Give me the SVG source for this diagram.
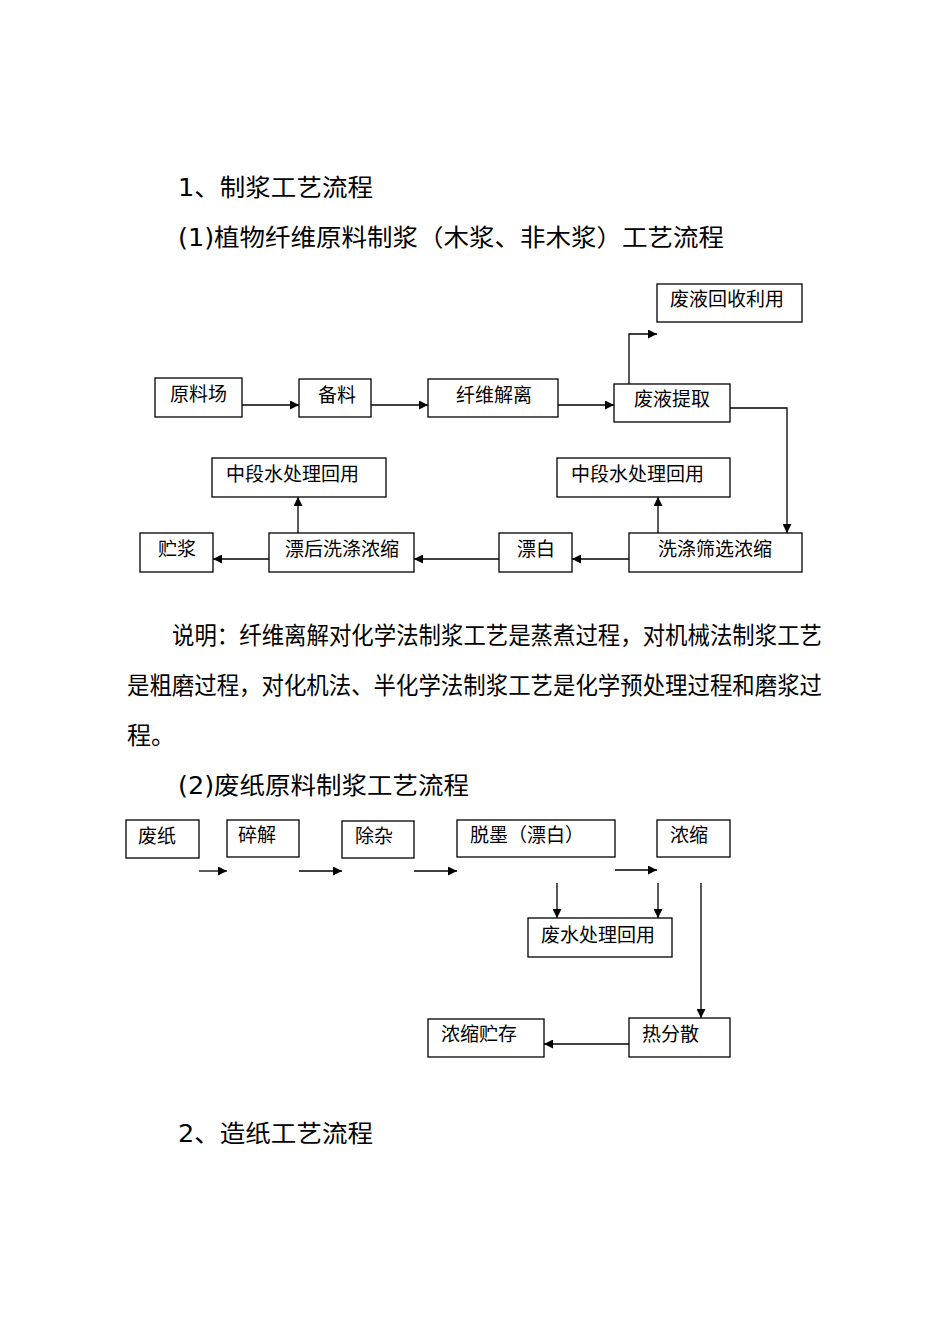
<svg xmlns="http://www.w3.org/2000/svg" width="950" height="1344" viewBox="0 0 950 1344">
<style>
.t{font-family:"DejaVu Sans","Noto Sans CJK SC",sans-serif;font-size:24px;fill:#000}
.b rect{fill:#fff;stroke:#000;stroke-width:1.3}
.b text{font-family:"Noto Sans CJK SC",sans-serif;font-size:19px;fill:#000}
#c path{fill:none;stroke:#000;stroke-width:1.3;marker-end:url(#a)}
</style>
<defs><marker id="a" viewBox="0 0 10 10" refX="10" refY="5" markerWidth="9" markerHeight="9" markerUnits="userSpaceOnUse" orient="auto"><path d="M0,0L10,5L0,10z" fill="#000"/></marker></defs>
<rect width="950" height="1344" fill="#fff"/>
<text class="t" x="178" y="196" textLength="195" lengthAdjust="spacingAndGlyphs">1、制浆工艺流程</text>
<text class="t" x="178" y="246" textLength="546" lengthAdjust="spacingAndGlyphs">(1)植物纤维原料制浆（木浆、非木浆）工艺流程</text>
<text class="t" x="172" y="644" textLength="650" lengthAdjust="spacingAndGlyphs">说明：纤维离解对化学法制浆工艺是蒸煮过程，对机械法制浆工艺</text>
<text class="t" x="127" y="694" textLength="695" lengthAdjust="spacingAndGlyphs">是粗磨过程，对化机法、半化学法制浆工艺是化学预处理过程和磨浆过</text>
<text class="t" x="127" y="744">程。</text>
<text class="t" x="178" y="794" textLength="291" lengthAdjust="spacingAndGlyphs">(2)废纸原料制浆工艺流程</text>
<text class="t" x="178" y="1142" textLength="195" lengthAdjust="spacingAndGlyphs">2、造纸工艺流程</text>
<g class="b">
<g id="n1"><rect x="657" y="284" width="145" height="38"/><text x="670" y="306">废液回收利用</text></g>
<g id="n2"><rect x="155" y="378" width="87" height="39"/><text x="170" y="401">原料场</text></g>
<g id="n3"><rect x="299" y="379" width="72" height="38"/><text x="318" y="402">备料</text></g>
<g id="n4"><rect x="428" y="379" width="130" height="38"/><text x="456" y="402">纤维解离</text></g>
<g id="n5"><rect x="614" y="384" width="116" height="38"/><text x="634" y="406">废液提取</text></g>
<g id="n6"><rect x="212" y="458" width="174" height="39"/><text x="226" y="481">中段水处理回用</text></g>
<g id="n7"><rect x="557" y="458" width="173" height="39"/><text x="571" y="481">中段水处理回用</text></g>
<g id="n8"><rect x="140" y="533" width="73" height="39"/><text x="158" y="556">贮浆</text></g>
<g id="n9"><rect x="269" y="533" width="145" height="39"/><text x="285" y="556">漂后洗涤浓缩</text></g>
<g id="n10"><rect x="499" y="533" width="73" height="39"/><text x="517" y="556">漂白</text></g>
<g id="n11"><rect x="629" y="533" width="173" height="39"/><text x="658" y="556">洗涤筛选浓缩</text></g>
<g id="m1"><rect x="126" y="820" width="73" height="38"/><text x="138" y="843">废纸</text></g>
<g id="m2"><rect x="227" y="820" width="72" height="37"/><text x="238" y="842">碎解</text></g>
<g id="m3"><rect x="342" y="821" width="72" height="37"/><text x="355" y="843">除杂</text></g>
<g id="m4"><rect x="457" y="820" width="158" height="37"/><text x="470" y="842">脱墨（漂白）</text></g>
<g id="m5"><rect x="657" y="820" width="73" height="37"/><text x="670" y="842">浓缩</text></g>
<g id="m6"><rect x="528" y="918" width="144" height="39"/><text x="541" y="942">废水处理回用</text></g>
<g id="m7"><rect x="629" y="1018" width="101" height="39"/><text x="642" y="1041">热分散</text></g>
<g id="m8"><rect x="428" y="1019" width="116" height="38"/><text x="441" y="1041">浓缩贮存</text></g>
</g>
<g id="c">
<path d="M242,405H299"/><path d="M371,405H428"/><path d="M558,405H614"/>
<path d="M629,384V334H657"/>
<path d="M730,408H787V533"/>
<path d="M629,559H572"/><path d="M499,559H414"/><path d="M269,559H213"/>
<path d="M298,533V497"/><path d="M658,533V497"/>
<path d="M199,871H227"/><path d="M299,871H342"/><path d="M414,871H457"/><path d="M615,870H657"/>
<path d="M557,883V918"/><path d="M658,883V918"/>
<path d="M701,883V1018"/>
<path d="M629,1044H544"/>
</g>
</svg>
